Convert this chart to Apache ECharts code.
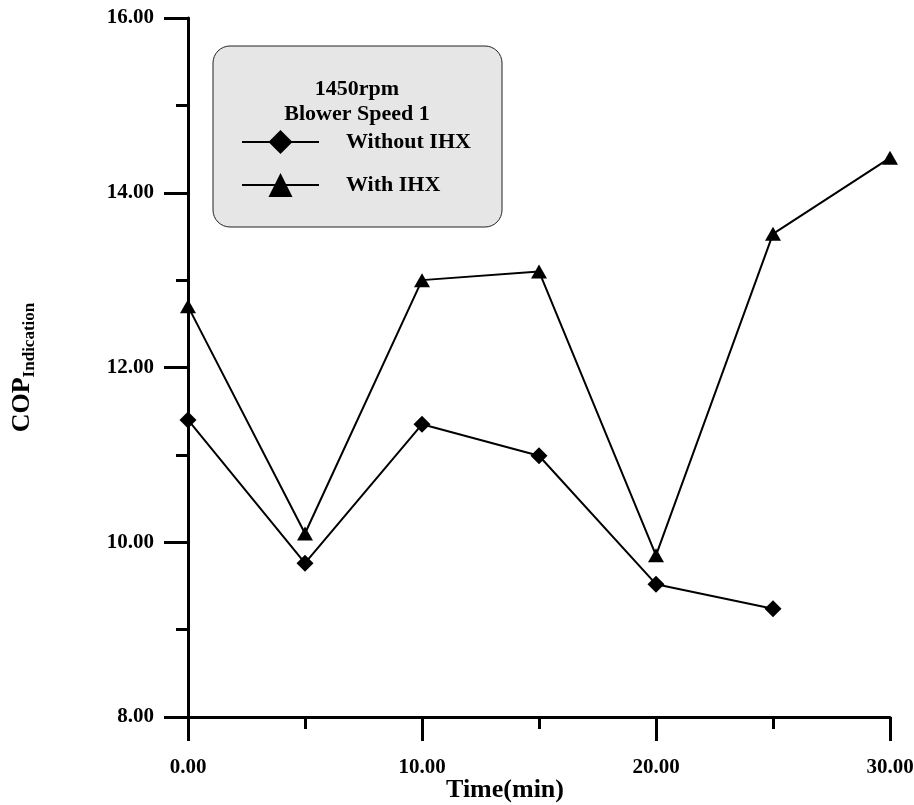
<!DOCTYPE html>
<html>
<head>
<meta charset="utf-8">
<title>COP vs Time</title>
<script src="https://cdn.jsdelivr.net/npm/echarts@6/dist/echarts.min.js"></script>
<style>
  html, body { margin: 0; padding: 0; background: #fff; }
  #chart { width: 914px; height: 805px; }
</style>
</head>
<body>
<div id="chart"></div>
<script>
// Time (min) and COP readings for each configuration
const timeWithout = [0, 5, 10, 15, 20, 25];
const copWithout = [11.40, 9.76, 11.35, 10.99, 9.52, 9.24];
const timeWith = [0, 5, 10, 15, 20, 25, 30];
const copWith = [12.70, 10.10, 13.00, 13.10, 9.85, 13.53, 14.40];

const seriesNames = ['Without IHX', 'With IHX'];
const legendTitle = ['1450rpm', 'Blower Speed 1'];
const xTitle = 'Time(min)';

const FONT = '"Liberation Serif", "Times New Roman", serif';

const chart = echarts.init(document.getElementById('chart'), null, { renderer: 'canvas' });

const pairs = (xs, ys) => xs.map((x, i) => [x, ys[i]]);

const axisCommon = {
  axisLine: { show: true, onZero: false, lineStyle: { color: '#000', width: 3 } },
  axisTick: { show: true, inside: false, length: 24, lineStyle: { color: '#000', width: 3 } },
  minorTick: { show: true, splitNumber: 2, length: 12, lineStyle: { color: '#000', width: 3 } },
  splitLine: { show: false },
  minorSplitLine: { show: false },
};

chart.setOption({
  backgroundColor: '#fff',
  animation: false,
  grid: { left: 188, right: 24, top: 18, bottom: 88, containLabel: false, outerBoundsMode: 'none' },
  xAxis: Object.assign({
    type: 'value',
    min: 0, max: 30, interval: 10,
    name: xTitle,
    nameLocation: 'middle',
    nameGap: 60,
    nameMoveOverlap: false,
    nameTextStyle: {
      fontFamily: FONT, fontWeight: 'bold', fontSize: 26, color: '#000',
      padding: [0, 68, 0, 0]
    },
    axisLabel: {
      margin: 40, color: '#000', fontFamily: FONT, fontWeight: 'bold', fontSize: 21,
      formatter: v => v.toFixed(2)
    }
  }, axisCommon),
  yAxis: Object.assign({
    type: 'value',
    min: 8, max: 16, interval: 2,
    name: '{a|COP}{b|Indication}',
    nameLocation: 'middle',
    nameRotate: 90,
    nameGap: 150,
    nameMoveOverlap: false,
    nameTextStyle: {
      color: '#000',
      rich: {
        a: { fontFamily: FONT, fontWeight: 'bold', fontSize: 26, lineHeight: 32, verticalAlign: 'middle', color: '#000' },
        b: { fontFamily: FONT, fontWeight: 'bold', fontSize: 17, lineHeight: 17, verticalAlign: 'bottom', color: '#000' }
      }
    },
    axisLabel: {
      margin: 34, color: '#000', fontFamily: FONT, fontWeight: 'bold', fontSize: 21,
      formatter: v => v.toFixed(2)
    }
  }, axisCommon),
  graphic: [
    {
      type: 'rect',
      x: 213, y: 46, z: 1,
      shape: { width: 289, height: 181, r: 17 },
      style: { fill: '#e6e6e6', stroke: '#222', lineWidth: 1 }
    },
    {
      type: 'text',
      x: 357, y: 77, z: 2,
      style: {
        text: legendTitle.join('\n'),
        fontFamily: FONT, fontWeight: 'bold', fontSize: 22, lineHeight: 25,
        align: 'center', verticalAlign: 'top', fill: '#000'
      }
    }
  ],
  legend: {
    orient: 'vertical',
    left: 241, top: 130,
    padding: 0,
    itemWidth: 77, itemHeight: 30, itemGap: 19,
    z: 5,
    data: seriesNames,
    textStyle: {
      fontFamily: FONT, fontWeight: 'bold', fontSize: 22, color: '#000',
      padding: [0, 0, 0, 22]
    }
  },
  series: [
    {
      name: seriesNames[0],
      type: 'line',
      data: pairs(timeWithout, copWithout),
      symbol: 'diamond', symbolSize: 17,
      lineStyle: { color: '#000', width: 2 },
      itemStyle: { color: '#000' },
      z: 3
    },
    {
      name: seriesNames[1],
      type: 'line',
      data: pairs(timeWith, copWith),
      symbol: 'triangle', symbolSize: [16, 14],
      lineStyle: { color: '#000', width: 2 },
      itemStyle: { color: '#000' },
      z: 3
    }
  ]
});
</script>
</body>
</html>
